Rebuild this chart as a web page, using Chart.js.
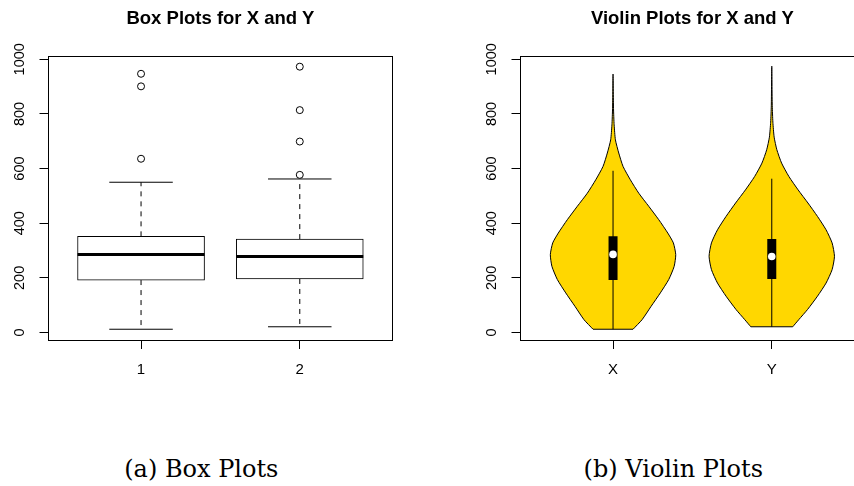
<!DOCTYPE html>
<html>
<head>
<meta charset="utf-8">
<script src="https://cdn.jsdelivr.net/npm/chart.js@4.4.1/dist/chart.umd.min.js"></script>
<style>
  body { margin: 0; background: #fff; }
  #page { position: relative; width: 854px; height: 486px; overflow: hidden; }
  .panel { position: absolute; top: 0; width: 427px; height: 486px; }
  .panel canvas { position: absolute; left: 0; top: 0; }
  .title {
    position: absolute; left: 0; width: 440.7px; top: 9px; text-align: center;
    font: bold 18.5px 'Liberation Sans', Arial, sans-serif; line-height: 18px; white-space: nowrap;
  }
  .caption {
    position: absolute; left: 0; width: 402.6px; top: 458px; text-align: center;
    font: 24px 'DejaVu Serif', serif; line-height: 23px; white-space: nowrap;
  }
</style>
</head>
<body>
<div id="page">
  <div class="panel" style="left:0">
    <canvas id="boxChart" width="427" height="400"></canvas>
    <div class="title">Box Plots for X and Y</div>
    <div class="caption">(a) Box Plots</div>
  </div>
  <div class="panel" style="left:472px">
    <canvas id="violinChart" width="427" height="400"></canvas>
    <div class="title">Violin Plots for X and Y</div>
    <div class="caption">(b) Violin Plots</div>
  </div>
</div>
<script>
/* global Chart */

const boxLabels = ['1', '2']
const violinLabels = ['X', 'Y']
const groupPositions = [1, 2]
const yTicks = [0, 200, 400, 600, 800, 1000]

// five number summaries
const lowerWhisker = [12, 21]
const quartile1 = [192, 196]
const medians = [286, 278]
const quartile3 = [352, 342]
const upperWhisker = [550, 562]
const outliersX = [636, 901, 947]
const outliersY = [577, 699, 814, 973]

// violin plot: whisker runs from the minimum to q3 + 1.5 IQR
const violinWhiskerLow = [12, 21]
const violinWhiskerTop = [592, 563]

// violin outlines: levels (bottom to top) and half widths in x units
const violinLevelsX = [12, 47, 96, 145, 194, 242, 285, 328, 364, 413, 462, 510, 559, 608, 657, 705, 760, 820, 946]
const violinHalfX = [0.126, 0.183, 0.24, 0.298, 0.351, 0.385, 0.395, 0.38, 0.345, 0.288, 0.225, 0.162, 0.109, 0.063, 0.036, 0.015, 0.007, 0.003, 0]
const violinLevelsY = [21, 47, 84, 133, 181, 230, 279, 328, 376, 425, 474, 522, 571, 620, 669, 715, 770, 830, 975]
const violinHalfY = [0.132, 0.17, 0.225, 0.288, 0.342, 0.38, 0.395, 0.38, 0.342, 0.288, 0.228, 0.166, 0.108, 0.062, 0.032, 0.015, 0.007, 0.003, 0]

Chart.defaults.font.family = "'Liberation Sans', Arial, sans-serif"
Chart.defaults.color = '#000'

const frame = {
  id: 'frame',
  afterDraw (chart) {
    const { ctx, chartArea: a } = chart
    const l = Math.floor(a.left)
    const t = Math.floor(a.top)
    ctx.save()
    ctx.strokeStyle = '#000'
    ctx.lineWidth = 1
    ctx.strokeRect(l + 0.5, t + 0.5, Math.floor(a.right) - l, Math.floor(a.bottom) - t)
    ctx.restore()
  }
}

function makeScales (labels) {
  return {
    x: {
      type: 'linear',
      min: 0.417,
      max: 2.581,
      offset: false,
      afterBuildTicks: s => { s.ticks = groupPositions.map(v => ({ value: v })) },
      afterFit: s => { s.height = 60 },
      grid: { offset: false, drawOnChartArea: false, drawTicks: true, tickLength: 9, color: '#000' },
      border: { display: false },
      ticks: { autoSkip: false, maxRotation: 0, padding: 12, font: { size: 15 }, callback: (v, i) => labels[i] }
    },
    y: {
      type: 'linear',
      min: -27.4,
      max: 1012.1,
      afterBuildTicks: s => { s.ticks = yTicks.map(v => ({ value: v })) },
      afterFit: s => { s.width = 48.5 },
      grid: { drawOnChartArea: false, drawTicks: true, tickLength: 9, color: '#000' },
      border: { display: false },
      ticks: { minRotation: 90, maxRotation: 90, crossAlign: 'center', padding: 3, font: { size: 14.5 }, callback: v => String(v) }
    }
  }
}

function makeOptions (labels) {
  return {
    responsive: false,
    animation: false,
    devicePixelRatio: 1,
    events: [],
    layout: { padding: { top: 56, right: 35, bottom: 0, left: 0 } },
    plugins: { legend: { display: false }, tooltip: { enabled: false }, title: { display: false } },
    scales: makeScales(labels)
  }
}

function segment (points, extra) {
  return Object.assign({
    type: 'line',
    data: points,
    pointRadius: 0,
    borderColor: '#000',
    borderWidth: 1,
    fill: false,
    tension: 0
  }, extra)
}

// ---- box plots ----
const boxDatasets = []
boxDatasets.push({
  type: 'scatter',
  order: 0,
  data: outliersX.map(y => ({ x: 1, y })).concat(outliersY.map(y => ({ x: 2, y }))),
  pointRadius: 3.5,
  pointBackgroundColor: '#fff',
  pointBorderColor: '#000',
  pointBorderWidth: 1
})
groupPositions.forEach((x, i) => {
  boxDatasets.push(segment([{ x: x - 0.4, y: medians[i] }, { x: x + 0.4, y: medians[i] }], { order: 1, borderWidth: 3, borderCapStyle: 'butt' }))
  boxDatasets.push(segment([{ x: x - 0.2, y: upperWhisker[i] }, { x: x + 0.2, y: upperWhisker[i] }], { order: 3 }))
  boxDatasets.push(segment([{ x: x - 0.2, y: lowerWhisker[i] }, { x: x + 0.2, y: lowerWhisker[i] }], { order: 3 }))
  boxDatasets.push(segment([{ x, y: quartile3[i] }, { x, y: upperWhisker[i] }], { order: 3, borderDash: [5, 5] }))
  boxDatasets.push(segment([{ x, y: quartile1[i] }, { x, y: lowerWhisker[i] }], { order: 3, borderDash: [5, 5] }))
})
boxDatasets.push({
  type: 'bar',
  order: 2,
  data: groupPositions.map((x, i) => ({ x, y: [quartile1[i], quartile3[i]] })),
  backgroundColor: '#fff',
  borderColor: '#000',
  borderWidth: 1,
  borderSkipped: false,
  barThickness: 127
})

new Chart(document.getElementById('boxChart'), {
  type: 'scatter',
  data: { datasets: boxDatasets },
  options: makeOptions(boxLabels),
  plugins: [frame]
})

// ---- violin plots ----
function outline (center, levels, halves) {
  const pts = levels.map((y, i) => ({ x: center - halves[i], y }))
  for (let i = levels.length - 2; i >= 0; i--) pts.push({ x: center + halves[i], y: levels[i] })
  return pts
}

const violinShapes = [[violinLevelsX, violinHalfX], [violinLevelsY, violinHalfY]]
const violinDatasets = []
groupPositions.forEach((x, i) => {
  const [levels, halves] = violinShapes[i]
  violinDatasets.push({
    type: 'scatter',
    order: 0,
    data: [{ x, y: medians[i] }],
    pointRadius: 3.8,
    pointBackgroundColor: '#fff',
    pointBorderColor: '#fff',
    pointBorderWidth: 0
  })
  violinDatasets.push(segment([{ x, y: quartile1[i] }, { x, y: quartile3[i] }], { order: 1, borderWidth: 9, borderCapStyle: 'butt' }))
  violinDatasets.push(segment([{ x, y: violinWhiskerLow[i] }, { x, y: violinWhiskerTop[i] }], { order: 2 }))
  violinDatasets.push(segment([{ x: x - halves[0], y: levels[0] }, { x: x + halves[0], y: levels[0] }], { order: 3 }))
  violinDatasets.push(segment(outline(x, levels, halves), {
    order: 4,
    fill: 'shape',
    backgroundColor: '#FFD700',
    tension: 0.2
  }))
})

new Chart(document.getElementById('violinChart'), {
  type: 'scatter',
  data: { datasets: violinDatasets },
  options: makeOptions(violinLabels),
  plugins: [frame]
})
</script>
</body>
</html>
